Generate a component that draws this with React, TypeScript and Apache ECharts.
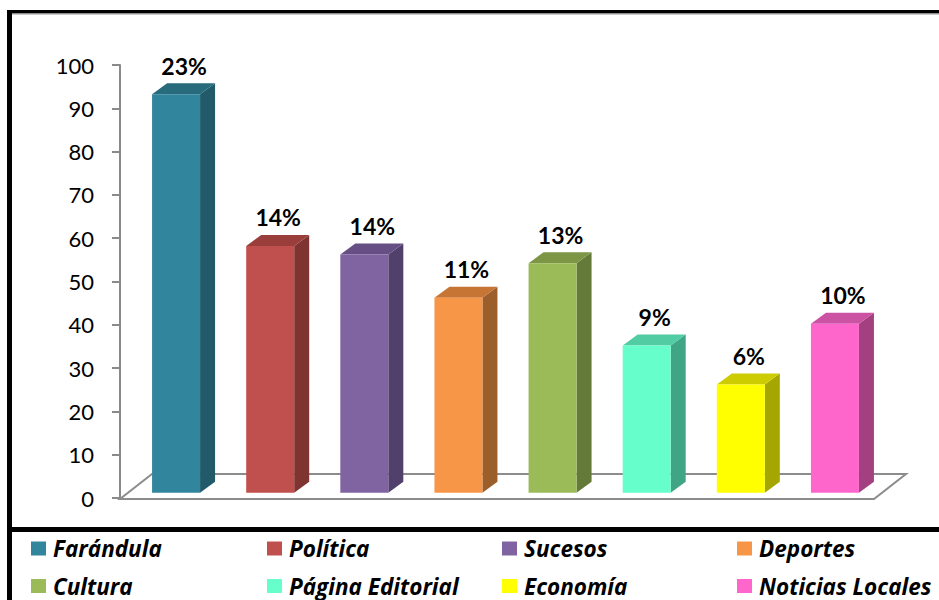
import React, { useEffect, useRef } from "react";
import * as echarts from "echarts";

const categories = [
  "Farándula",
  "Política",
  "Sucesos",
  "Deportes",
  "Cultura",
  "Página Editorial",
  "Economía",
  "Noticias Locales",
];
const values = [92, 57, 55, 45, 53, 34, 25, 39];
const percentLabels = ["23%", "14%", "14%", "11%", "13%", "9%", "6%", "10%"];
const frontColors = ["#31859C", "#C0504D", "#8064A2", "#F79646", "#9BBB59", "#66FFCC", "#FFFF00", "#FF66CC"];
const sideColors = ["#215A69", "#7F3432", "#51406B", "#9C5E2A", "#647A39", "#40A584", "#A6A600", "#A3407F"];
const topColors = ["#276B7D", "#9A3E3C", "#664F83", "#C67535", "#7C9646", "#52CCA3", "#CCCC00", "#CC52A3"];
const yMin = 0;
const yMax = 100;
const yInterval = 10;

const legendCols = [31, 267, 502, 737];
const legendRows = [537, 574.5];

export default function App() {
  const ref = useRef<HTMLDivElement>(null);

  useEffect(() => {
    if (!ref.current) return;
    const chart = echarts.init(ref.current, null, { renderer: "svg" });

    const depthX = 15;
    const depthY = 11;
    const lift = 5.3;
    const halfW = 24;

    const barSeries = categories.map((name, i) => ({
      type: "custom",
      name,
      itemStyle: { color: frontColors[i] },
      encode: { x: 0, y: 1 },
      data: [[i, values[i]]],
      z: 3,
      renderItem: (params: any, api: any) => {
        const xi = api.value(0);
        const v = api.value(1);
        const base = api.coord([xi, 0]);
        const top = api.coord([xi, v]);
        const cx = base[0];
        const yb = base[1] - lift;
        const yt = top[1] - lift;
        const l = cx - halfW;
        const r = cx + halfW;
        return {
          type: "group",
          children: [
            {
              type: "polygon",
              shape: {
                points: [
                  [r, yt],
                  [r + depthX, yt - depthY],
                  [r + depthX, yb - depthY],
                  [r, yb],
                ],
              },
              style: { fill: sideColors[i] },
            },
            {
              type: "polygon",
              shape: {
                points: [
                  [l, yt],
                  [l + depthX, yt - depthY],
                  [r + depthX, yt - depthY],
                  [r, yt],
                ],
              },
              style: { fill: topColors[i] },
            },
            {
              type: "rect",
              shape: { x: l, y: yt, width: halfW * 2, height: yb - yt },
              style: { fill: frontColors[i] },
            },
            {
              type: "text",
              x: cx + 8,
              y: yt - depthY - 6,
              style: {
                text: percentLabels[i],
                fill: "#000",
                font: "bold 23px Lato",
                textAlign: "center",
                textVerticalAlign: "bottom",
              },
            },
          ],
        };
      },
    }));

    const floorSeries = {
      type: "custom",
      name: "floor",
      silent: true,
      z: 1,
      encode: { x: 0, y: 1 },
      data: [[0, 0]],
      renderItem: (params: any, api: any) => {
        const cs = params.coordSys;
        const y0 = api.coord([0, 0])[1] + 1;
        const xl = cs.x - 9;
        const xr = cs.x + cs.width - 8;
        const bx = 32;
        const by = 25;
        return {
          type: "polygon",
          shape: {
            points: [
              [xl, y0],
              [xr, y0],
              [xr + bx, y0 - by],
              [xl + bx, y0 - by],
            ],
          },
          style: { fill: "#ffffff", stroke: "#8c8c8c", lineWidth: 2 },
        };
      },
    };

    const option: any = {
      animation: false,
      backgroundColor: "#ffffff",
      grid: { left: 129, right: 57, top: 65, bottom: 102, containLabel: false },
      xAxis: {
        type: "category",
        data: categories,
        axisLine: { show: false },
        axisTick: { show: false },
        axisLabel: { show: false },
        splitLine: { show: false },
      },
      yAxis: {
        type: "value",
        min: yMin,
        max: yMax,
        interval: yInterval,
        offset: 9,
        axisLine: { show: true, lineStyle: { color: "#8a8a8a", width: 2 } },
        axisTick: { show: true, length: 8, lineStyle: { color: "#8a8a8a", width: 2 } },
        splitLine: { show: false },
        axisLabel: { color: "#000", fontFamily: "Lato", fontSize: 22, margin: 26 },
      },
      legend: categories.map((c, i) => ({
        data: [c],
        left: legendCols[i % 4],
        top: legendRows[Math.floor(i / 4)],
        padding: 0,
        icon: "rect",
        itemWidth: 15,
        itemHeight: 14,
        selectedMode: false,
        textStyle: {
          color: "#000",
          fontFamily: "Open Sans",
          fontWeight: "bold",
          fontStyle: "italic",
          fontSize: 22.5,
          lineHeight: 22,
          padding: [0, 0, 0, 2],
        },
      })),
      graphic: [
        { type: "rect", shape: { x: 8, y: 10, width: 935, height: 3.5 }, style: { fill: "#000" }, z: 10 },
        { type: "rect", shape: { x: 8, y: 13.5, width: 935, height: 1 }, style: { fill: "#9a9a9a" }, z: 10 },
        { type: "rect", shape: { x: 7, y: 10, width: 5, height: 590 }, style: { fill: "#000" }, z: 10 },
        { type: "rect", shape: { x: 7, y: 527, width: 935, height: 5 }, style: { fill: "#000" }, z: 10 },
      ],
      series: [floorSeries, ...barSeries],
    };

    chart.setOption(option);
    return () => chart.dispose();
  }, []);

  return (
    <div
      ref={ref}
      style={{ position: "absolute", left: 0, top: 0, width: 939, height: 600 }}
    />
  );
}
